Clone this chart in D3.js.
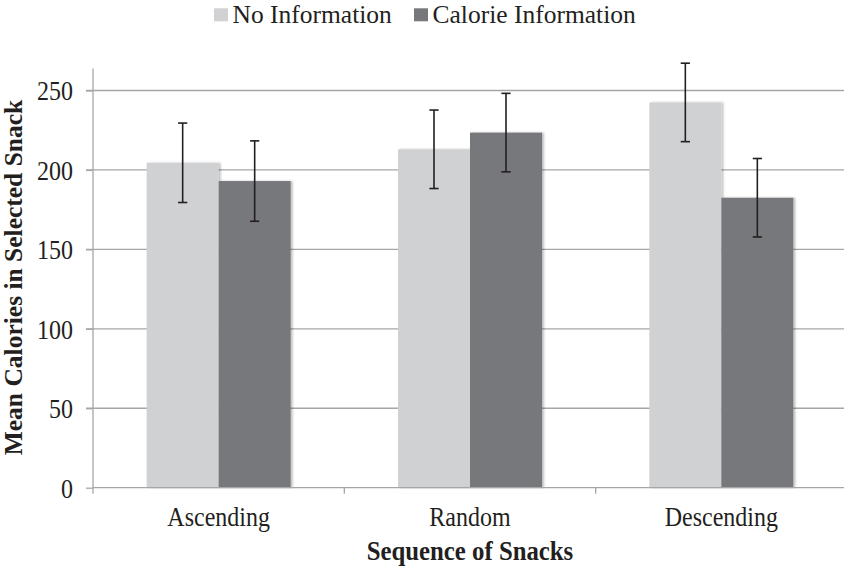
<!DOCTYPE html>
<html>
<head>
<meta charset="utf-8">
<script src="https://cdn.jsdelivr.net/npm/d3@7"></script>
<style>
  body { margin: 0; background: #fff; }
  svg text { font-family: "Liberation Serif", "Times New Roman", serif; fill: #231f20; }
</style>
</head>
<body>
<svg id="chart" width="844" height="567"></svg>
<script>
const categories = ["Ascending", "Random", "Descending"];
const seriesNames = ["No Information", "Calorie Information"];
const noInfo = [204.5, 213, 242.5];
const calorieInfo = [193, 223.5, 182.5];
const noInfoErr = [25, 24.7, 24.7];
const calorieErr = [25.3, 24.7, 24.7];
const yTicks = [0, 50, 100, 150, 200, 250];
const colors = ["#d0d1d3", "#77787b"];

(function () {
const svg = d3.select("#chart");
const pLeft = 93, pRight = 847, pTop = 90.5, pBottom = 487.7;

const x = d3.scaleBand().domain(categories).range([pLeft, pRight]).paddingInner(0).paddingOuter(0);
const groupW = x.bandwidth() * 0.573;
const sub = d3.scaleBand().domain(seriesNames).range([(x.bandwidth() - groupW) / 2, (x.bandwidth() + groupW) / 2]);
const y = d3.scaleLinear().domain([0, 250]).range([pBottom, pTop]);

const defs = svg.append("defs");
const f = defs.append("filter").attr("id", "shadow").attr("x", "-10%").attr("y", "-10%").attr("width", "130%").attr("height", "130%");
f.append("feGaussianBlur").attr("in", "SourceAlpha").attr("stdDeviation", 1.2).attr("result", "b");
f.append("feOffset").attr("in", "b").attr("dx", 1.5).attr("dy", 0).attr("result", "o");
f.append("feComponentTransfer").attr("in", "o").attr("result", "o2")
  .append("feFuncA").attr("type", "linear").attr("slope", 0.25);
const m = f.append("feMerge");
m.append("feMergeNode").attr("in", "o2");
m.append("feMergeNode").attr("in", "SourceGraphic");

// gridlines
svg.append("g").selectAll("line").data(yTicks.filter(d => d > 0)).join("line")
  .attr("x1", pLeft - 7).attr("x2", 844)
  .attr("y1", d => y(d)).attr("y2", d => y(d))
  .attr("stroke", "#a6a6a6").attr("stroke-width", 1.3);

// y axis
const yAxis = svg.append("g").attr("transform", `translate(${pLeft},0)`)
  .call(d3.axisLeft(y).tickValues(yTicks).tickSize(7).tickPadding(13).tickFormat(d3.format("d")));
yAxis.select(".domain").attr("stroke", "#a6a6a6").attr("stroke-width", 1.3).attr("d", `M0,${pTop - 22}V${pBottom}`);
yAxis.selectAll(".tick line").attr("stroke", "#a6a6a6").attr("stroke-width", 1.3);
yAxis.selectAll(".tick text")
  .attr("x", null).attr("dy", null)
  .attr("transform", "translate(-20,9.4) scale(1,1.15)")
  .attr("font-size", 24).attr("font-family", "Liberation Serif").attr("fill", "#231f20");

// bars
const data = categories.map((c, i) => ({ c, vals: [
  { s: seriesNames[0], v: noInfo[i], e: noInfoErr[i] },
  { s: seriesNames[1], v: calorieInfo[i], e: calorieErr[i] }
]}));

const groups = svg.append("g").selectAll("g").data(data).join("g")
  .attr("transform", d => `translate(${x(d.c)},0)`);
groups.selectAll("rect").data(d => d.vals).join("rect")
  .attr("x", d => sub(d.s)).attr("width", sub.bandwidth())
  .attr("y", d => y(d.v)).attr("height", d => y(0) - y(d.v))
  .attr("fill", (d, i) => colors[i]).attr("filter", "url(#shadow)");

// x axis
const xAxis = svg.append("g").attr("transform", `translate(0,${pBottom})`);
xAxis.append("line").attr("x1", pLeft).attr("x2", 844).attr("y1", 0).attr("y2", 0)
  .attr("stroke", "#a6a6a6").attr("stroke-width", 1.3);
xAxis.selectAll("line.tk").data(categories.map(c => x(c)).concat([pRight])).join("line").attr("class", "tk")
  .attr("x1", d => d).attr("x2", d => d).attr("y1", 0).attr("y2", 6)
  .attr("stroke", "#a6a6a6").attr("stroke-width", 1.3);
xAxis.selectAll("text").data(categories).join("text")
  .attr("transform", d => `translate(${x(d) + x.bandwidth() / 2},38.3) scale(1,1.15)`)
  .attr("text-anchor", "middle").attr("font-size", 24).text(d => d);

// error bars
groups.each(function(d) {
  const g = d3.select(this);
  d.vals.forEach(v => {
    const cx = sub(v.s) + sub.bandwidth() / 2;
    const eg = g.append("g").attr("stroke", "#231f20").attr("stroke-width", 1.6);
    eg.append("line").attr("x1", cx).attr("x2", cx).attr("y1", y(v.v + v.e)).attr("y2", y(v.v - v.e));
    eg.append("line").attr("x1", cx - 4.6).attr("x2", cx + 4.6).attr("y1", y(v.v + v.e)).attr("y2", y(v.v + v.e));
    eg.append("line").attr("x1", cx - 4.6).attr("x2", cx + 4.6).attr("y1", y(v.v - v.e)).attr("y2", y(v.v - v.e));
  });
});

// axis titles
svg.append("text").attr("transform", `translate(${(pLeft + pRight) / 2},560) scale(1,1.1)`).attr("text-anchor", "middle")
  .attr("font-size", 24.8).attr("font-weight", "bold").text("Sequence of Snacks");
svg.append("text").attr("transform", `translate(22,277.5) rotate(-90)`).attr("text-anchor", "middle")
  .attr("font-size", 25.5).attr("font-weight", "bold").text("Mean Calories in Selected Snack");

// legend
const legendX = [214, 414];
const lg = svg.append("g").selectAll("g").data(seriesNames).join("g")
  .attr("transform", (d, i) => `translate(${legendX[i]},0)`);
lg.append("rect").attr("x", 0).attr("y", 8.3).attr("width", 14).attr("height", 13).attr("fill", (d, i) => colors[i]);
lg.append("text").attr("x", 18.5).attr("y", 23.3).attr("font-size", 25.5).text(d => d);
})();
</script>
</body>
</html>
